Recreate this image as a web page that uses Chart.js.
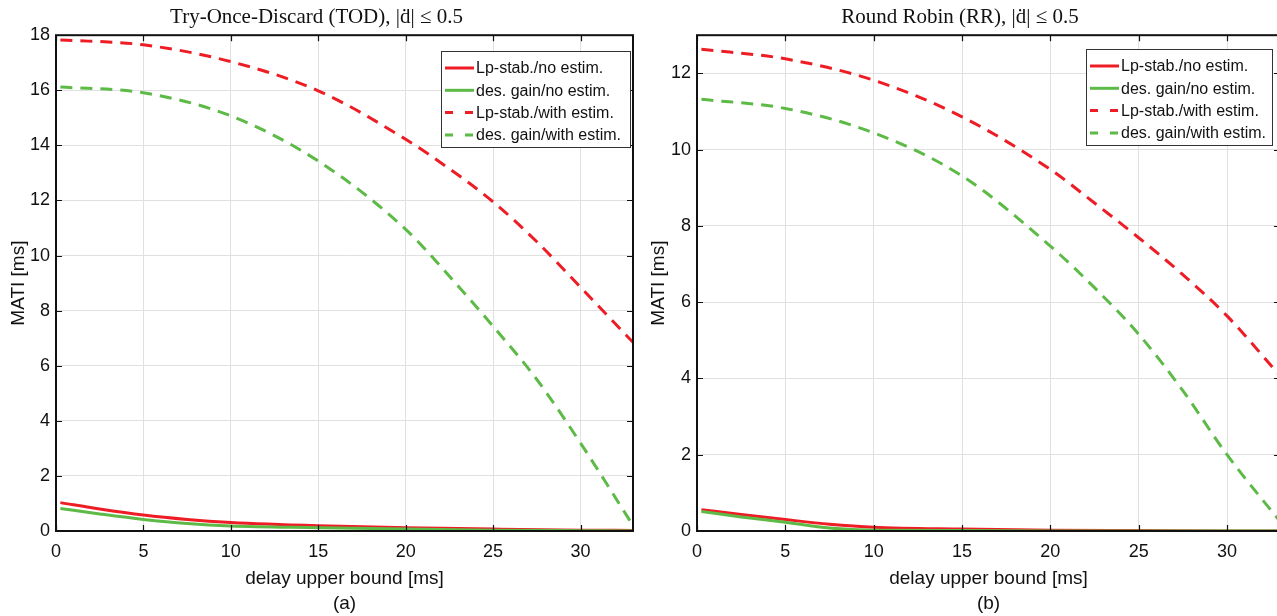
<!DOCTYPE html>
<html>
<head>
<meta charset="utf-8">
<script src="https://cdn.jsdelivr.net/npm/chart.js@4.4.1/dist/chart.umd.min.js"></script>
<style>
  body { margin: 0; width: 1277px; height: 616px; overflow: hidden; background: #fff; position: relative; }
  canvas { position: absolute; top: 0; }
  #chartA { left: 0; }
  #chartB { left: 640px; }
</style>
</head>
<body>
<canvas id="chartA" width="640" height="616"></canvas>
<canvas id="chartB" width="645" height="616"></canvas>
<script>
// tick labels
const xTicks = [0, 5, 10, 15, 20, 25, 30];
const yTicksA = [0, 2, 4, 6, 8, 10, 12, 14, 16, 18];
const yTicksB = [0, 2, 4, 6, 8, 10, 12];

const seriesNames = ["Lp-stab./no estim.", "des. gain/no estim.", "Lp-stab./with estim.", "des. gain/with estim."];

// (a) Try-Once-Discard
const xSolidA = [0.25, 2.5, 5, 7.5, 10, 15, 20, 25, 30, 33];
const redSolidA = [1.03, 0.80, 0.58, 0.42, 0.31, 0.19, 0.12, 0.07, 0.03, 0.02];
const greenSolidA = [0.82, 0.62, 0.42, 0.27, 0.18, 0.12, 0.07, 0.03, 0.01, 0.0];
const xDashA = [0.25, 5, 10, 15, 20, 22.5, 25, 27.5, 30, 33];
const redDashA = [17.83, 17.65, 17.04, 15.98, 14.22, 13.15, 11.95, 10.5, 8.85, 6.85];
const greenDashA = [16.12, 15.91, 15.07, 13.43, 10.95, 9.25, 7.43, 5.5, 3.19, 0.2];

// (b) Round Robin
const xSolidB = [0.25, 2.5, 5, 7.5, 10, 15, 20, 25, 30, 33];
const redSolidB = [0.56, 0.43, 0.30, 0.18, 0.10, 0.05, 0.02, 0.01, 0.0, 0.0];
const greenSolidB = [0.51, 0.37, 0.23, 0.08, 0.02, 0.01, 0.0, 0.0, 0.0, 0.0];
const xDashB = [0.25, 5, 10, 15, 20, 22.5, 25, 27.5, 30, 33];
const redDashB = [12.63, 12.38, 11.82, 10.86, 9.48, 8.6, 7.69, 6.72, 5.64, 4.07];
const greenDashB = [11.32, 11.08, 10.44, 9.31, 7.47, 6.38, 5.16, 3.68, 2.0, 0.25];

const RED = '#ee1d25';
const GREEN = '#5dba47';
const DASH = [12, 8];

function pts(xs, ys) {
  return xs.map((x, i) => ({ x: x, y: ys[i] }));
}

// box, inner ticks and legend inside the plot, like matlab
const framePlugin = {
  id: 'frame',
  afterDraw(chart, args, opts) {
    const { ctx, chartArea: a, scales } = chart;
    ctx.save();
    ctx.strokeStyle = '#111';
    ctx.lineWidth = 1.2;
    ctx.beginPath();
    scales.x.ticks.forEach(t => {
      const px = Math.round(scales.x.getPixelForValue(t.value)) + 0.5;
      ctx.moveTo(px, a.bottom); ctx.lineTo(px, a.bottom - 6);
      ctx.moveTo(px, a.top); ctx.lineTo(px, a.top + 6);
    });
    scales.y.ticks.forEach(t => {
      const py = Math.round(scales.y.getPixelForValue(t.value)) + 0.5;
      ctx.moveTo(a.left, py); ctx.lineTo(a.left + 6, py);
      ctx.moveTo(a.right, py); ctx.lineTo(a.right - 6, py);
    });
    ctx.stroke();
    ctx.lineWidth = 2;
    ctx.strokeRect(a.left, a.top, a.width, a.height);

    // legend
    const lx = opts.left, ly = opts.top, lw = opts.width, lh = 96;
    ctx.fillStyle = '#fff';
    ctx.fillRect(lx, ly, lw, lh);
    ctx.lineWidth = 1;
    ctx.strokeStyle = '#333';
    ctx.strokeRect(lx + 0.5, ly + 0.5, lw, lh);
    ctx.font = '16px "Liberation Sans", Arial, sans-serif';
    ctx.textBaseline = 'middle';
    chart.data.datasets.forEach((ds, i) => {
      const yy = ly + 17 + i * 22.3;
      ctx.strokeStyle = ds.borderColor;
      ctx.lineWidth = 3;
      ctx.setLineDash(ds.borderDash && ds.borderDash.length ? [8, 12] : []);
      ctx.beginPath();
      ctx.moveTo(lx + 4, yy); ctx.lineTo(lx + 33, yy);
      ctx.stroke();
      ctx.setLineDash([]);
      ctx.fillStyle = '#111';
      ctx.fillText(ds.label, lx + 35, yy + 1);
    });
    ctx.restore();
  }
};

function makeChart(id, title, sub, yTicks, yMax, data, yWidth, padRight, legendOpts) {
  const tickFont = { family: '"Liberation Sans", Arial, sans-serif', size: 18 };
  return new Chart(id, {
    type: 'line',
    data: {
      datasets: [
        { label: seriesNames[0], data: data[0], borderColor: RED, borderWidth: 3, order: 2 },
        { label: seriesNames[1], data: data[1], borderColor: GREEN, borderWidth: 3, order: 1 },
        { label: seriesNames[2], data: data[2], borderColor: RED, borderWidth: 3, borderDash: DASH, order: 4 },
        { label: seriesNames[3], data: data[3], borderColor: GREEN, borderWidth: 3, borderDash: DASH, order: 3 }
      ]
    },
    options: {
      responsive: false,
      animation: false,
      devicePixelRatio: 1,
      layout: { padding: { left: 0, right: padRight, top: 0, bottom: 0 } },
      elements: { point: { radius: 0 }, line: { cubicInterpolationMode: 'monotone' } },
      plugins: {
        legend: { display: false },
        tooltip: { enabled: false },
        title: {
          display: true,
          text: title,
          color: '#111',
          font: { family: '"Liberation Serif", "DejaVu Serif", serif', size: 21, weight: 'normal' },
          padding: { top: 5, bottom: 5 }
        },
        frame: legendOpts
      },
      scales: {
        x: {
          type: 'linear',
          min: 0,
          max: 33,
          afterBuildTicks: s => { s.ticks = xTicks.map(v => ({ value: v })); },
          afterFit: s => { s.height = 85; },
          ticks: { color: '#111', font: tickFont, padding: 10, maxRotation: 0 },
          grid: { color: '#e0e0e0', drawTicks: false },
          border: { display: false },
          title: {
            display: true,
            text: ['delay upper bound [ms]', sub],
            color: '#111',
            font: { family: '"Liberation Sans", Arial, sans-serif', size: 19, lineHeight: 1.32 },
            padding: { top: 0, bottom: 0 }
          }
        },
        y: {
          type: 'linear',
          min: 0,
          max: yMax,
          afterBuildTicks: s => { s.ticks = yTicks.map(v => ({ value: v })); },
          afterFit: s => { s.width = yWidth; },
          ticks: { color: '#111', font: tickFont, padding: 6 },
          grid: { color: '#e0e0e0', drawTicks: false },
          border: { display: false },
          title: {
            display: true,
            text: 'MATI [ms]',
            color: '#111',
            font: { family: '"Liberation Sans", Arial, sans-serif', size: 19 },
            padding: { top: 7, bottom: 0 }
          }
        }
      }
    },
    plugins: [framePlugin]
  });
}

makeChart('chartA', 'Try-Once-Discard (TOD), |ḋ| ≤ 0.5', '(a)', yTicksA, 18,
  [pts(xSolidA, redSolidA), pts(xSolidA, greenSolidA), pts(xDashA, redDashA), pts(xDashA, greenDashA)],
  56, 7, { left: 441, top: 51, width: 189 });

makeChart('chartB', 'Round Robin (RR), |ḋ| ≤ 0.5', '(b)', yTicksB, 13,
  [pts(xSolidB, redSolidB), pts(xSolidB, greenSolidB), pts(xDashB, redDashB), pts(xDashB, greenDashB)],
  57, 5, { left: 446, top: 49, width: 186 });
</script>
</body>
</html>
